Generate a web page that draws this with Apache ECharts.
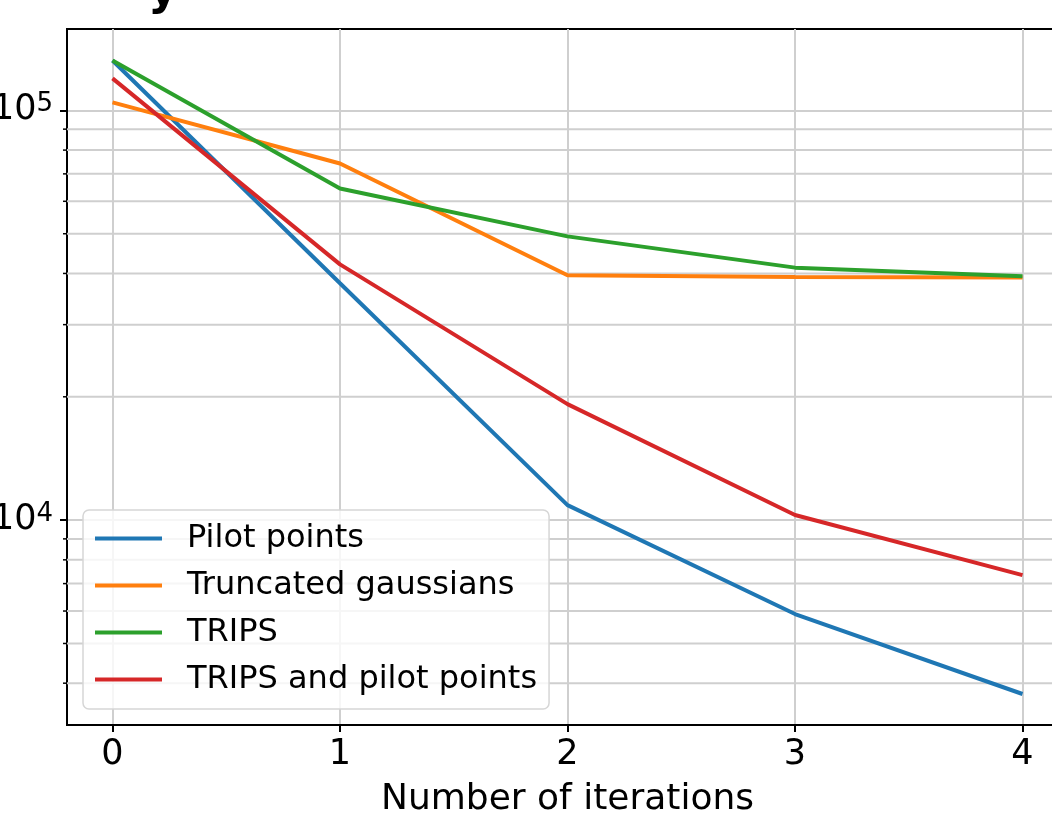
<!DOCTYPE html>
<html><head><meta charset="utf-8">
<script src="https://cdn.jsdelivr.net/npm/echarts@6/dist/echarts.min.js"></script>
<style>html,body{margin:0;padding:0;background:#fff;overflow:hidden}#c{width:1052px;height:816px}</style>
</head><body><div id="c"></div>
<script>
// ---- data ----
const iterations = [0, 1, 2, 3, 4];
const pilotPoints = [132400, 37860, 10880, 5900, 3764];
const truncatedGaussians = [104600, 74200, 39580, 39220, 39080];
const trips = [132400, 64500, 49270, 41330, 39360];
const tripsAndPilotPoints = [119700, 42100, 19190, 10290, 7340];
const seriesNames = ['Pilot points', 'Truncated gaussians', 'TRIPS', 'TRIPS and pilot points'];
const xTicks = [0, 1, 2, 3, 4];
const yMajorTicks = [10000, 100000];
const yMinorTicks = [4000, 5000, 6000, 7000, 8000, 9000, 20000, 30000, 40000, 50000, 60000, 70000, 80000, 90000];
const xLabel = 'Number of iterations';
const titleFragment = 'y';

// ---- chart ----
const FONT = 'DejaVu Sans';
const colors = ['#1f77b4', '#ff7f0e', '#2ca02c', '#d62728'];
const seriesValues = [pilotPoints, truncatedGaussians, trips, tripsAndPilotPoints];
const GRID = '#cfcfcf';

const chart = echarts.init(document.getElementById('c'), null, {renderer: 'canvas'});

const lineSeries = seriesNames.map((name, i) => ({
  name: name,
  type: 'line',
  data: iterations.map((x, j) => [x, seriesValues[i][j]]),
  symbol: 'none',
  showSymbol: false,
  lineStyle: {color: colors[i], width: 4},
  itemStyle: {color: colors[i]},
  z: 3,
  animation: false
}));

const minorSeries = {
  type: 'custom',
  name: 'minor',
  data: yMinorTicks.map(v => [0, v]),
  encode: {x: 0, y: 1},
  clip: false,
  z: 1,
  silent: true,
  animation: false,
  renderItem: function (params, api) {
    const p = api.coord([0, api.value(1)]);
    const cs = params.coordSys;
    return {
      type: 'group',
      children: [
        {type: 'line', shape: {x1: cs.x, y1: p[1], x2: cs.x + cs.width, y2: p[1]},
         style: {stroke: GRID, lineWidth: 2}},
        {type: 'line', shape: {x1: cs.x - 4, y1: p[1], x2: cs.x, y2: p[1]},
         style: {stroke: '#000', lineWidth: 1.5}}
      ]
    };
  }
};

chart.setOption({
  animation: false,
  backgroundColor: '#fff',
  textStyle: {fontFamily: FONT},
  grid: {left: 67, top: 29, width: 1001, height: 696, show: true, borderColor: '#000', borderWidth: 2,
         backgroundColor: 'transparent', containLabel: false, outerBoundsMode: 'none'},
  graphic: [{
    type: 'text', left: 148, top: -31,
    style: {text: titleFragment, font: 'bold 46px "DejaVu Sans"', fill: '#000'}
  }],
  legend: {
    data: seriesNames,
    orient: 'vertical',
    left: 83, top: 510,
    padding: [5, 12, 6, 12],
    itemGap: 0,
    icon: 'rect',
    itemWidth: 67, itemHeight: 4,
    backgroundColor: 'rgba(255,255,255,0.8)',
    borderColor: '#d6d6d6', borderWidth: 1.5, borderRadius: 6,
    textStyle: {fontFamily: FONT, fontSize: 32, color: '#000', lineHeight: 47, padding: [0, 0, 0, 20]},
    z: 10
  },
  xAxis: {
    type: 'value', min: -0.2, max: 4.2,
    axisLine: {show: true, onZero: false, lineStyle: {color: '#000', width: 2}},
    axisTick: {show: true, customValues: xTicks, length: 7, lineStyle: {color: '#000', width: 2}},
    axisLabel: {customValues: xTicks, fontFamily: FONT, fontSize: 35, color: '#000', margin: 12},
    splitLine: {show: true, lineStyle: {color: GRID, width: 2}},
    name: xLabel, nameLocation: 'middle', nameGap: 57,
    nameTextStyle: {fontFamily: FONT, fontSize: 36, color: '#000'}
  },
  yAxis: {
    type: 'log', logBase: 10, min: 3162.3, max: 158000,
    axisLine: {show: true, onZero: false, lineStyle: {color: '#000', width: 2}},
    axisTick: {show: true, customValues: yMajorTicks, length: 7, lineStyle: {color: '#000', width: 2}},
    axisLabel: {
      customValues: yMajorTicks,
      margin: 14,
      formatter: function (v) {
        const e = Math.round(Math.log10(v));
        return '{b|10}{s|' + e + '}';
      },
      rich: {
        b: {fontFamily: FONT, fontSize: 35, color: '#000', lineHeight: 38},
        s: {fontFamily: FONT, fontSize: 26, color: '#000', lineHeight: 26, verticalAlign: 'top'}
      }
    },
    splitLine: {show: true, lineStyle: {color: GRID, width: 2}}
  },
  series: [minorSeries].concat(lineSeries)
});
</script></body></html>
